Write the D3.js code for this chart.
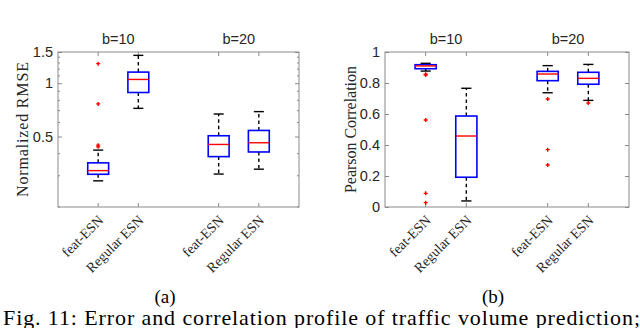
<!DOCTYPE html>
<html>
<head>
<meta charset="utf-8">
<script src="https://cdn.jsdelivr.net/npm/d3@7"></script>
<style>
  body { margin: 0; background: #fff; }
  svg { display: block; }
</style>
</head>
<body>
<svg id="chart" width="640" height="328"></svg>
<script>
// box categories and groups (same for both panels)
const categories = ["feat-ESN", "Regular ESN"];
const groupLabels = ["b=10", "b=20"];

// (a) normalized RMSE, per box: [lower whisker, q1, median, q3, upper whisker]
const rmseStats = [
  [0.281, 0.306, 0.321, 0.355, 0.419],
  [0.721, 0.886, 1.05, 1.155, 1.436],
  [0.307, 0.385, 0.451, 0.505, 0.670],
  [0.327, 0.409, 0.461, 0.541, 0.691]
];
const rmseOutliers = [[1.289, 0.764, 0.447, 0.437], [], [], []];
const rmseTicks = [0.5, 1, 1.5];
const rmseMinor = [0.2, 0.3, 0.4, 0.6, 0.7, 0.8, 0.9, 1.1, 1.2, 1.3, 1.4];

// (b) pearson correlation
const corrStats = [
  [0.877, 0.892, 0.910, 0.918, 0.927],
  [0.039, 0.192, 0.458, 0.587, 0.766],
  [0.737, 0.815, 0.858, 0.875, 0.912],
  [0.688, 0.792, 0.830, 0.869, 0.920]
];
const corrOutliers = [[0.852, 0.856, 0.561, 0.088, 0.028], [], [0.697, 0.370, 0.271], [0.671]];
const corrTicks = [0, 0.2, 0.4, 0.6, 0.8, 1];

const svg = d3.select("#chart");
const sans = "Liberation Sans, Arial, sans-serif";
const serif = "Liberation Serif, Times New Roman, serif";

function drawPanel(opts){
  const g = svg.append("g");
  const [x0, x1] = opts.xr;
  const [yb, yt] = opts.yr;

  // groups -> categories inside each group
  const gx = d3.scaleBand().domain(groupLabels).range([x0, x1]);
  const cx = d3.scalePoint().domain(categories).range([0, gx.bandwidth()]).padding(1);
  const step = cx.step();
  const boxes = [];
  groupLabels.forEach((grp, gi) => {
    categories.forEach((cat, ci) => {
      const i = gi * categories.length + ci;
      boxes.push({x: gx(grp) + cx(cat), cat: cat, s: opts.stats[i], out: opts.outliers[i]});
    });
  });
  const y = opts.y;

  // frame
  g.append("rect")
    .attr("x", x0).attr("y", yt)
    .attr("width", x1 - x0).attr("height", yb - yt)
    .attr("fill", "none").attr("stroke", "#8a8a8a").attr("stroke-width", 1);

  // y ticks (inward, mirrored on right)
  const yAxis = d3.axisLeft(y).tickValues(opts.ticks)
    .tickFormat(opts.fmt).tickSizeInner(-4).tickSizeOuter(0).tickPadding(5);
  const ya = g.append("g").attr("transform", `translate(${x0},0)`).call(yAxis);
  ya.select(".domain").remove();
  ya.selectAll("line").attr("stroke", "#8a8a8a");
  ya.selectAll("text").attr("font-family", sans).attr("font-size", 14.5).attr("fill", "#262626");

  const yr = g.append("g").attr("transform", `translate(${x1},0)`)
    .call(d3.axisRight(y).tickValues(opts.ticks).tickFormat("").tickSizeInner(-4).tickSizeOuter(0));
  yr.select(".domain").remove();
  yr.selectAll("line").attr("stroke", "#8a8a8a");

  if (opts.minor) {
    [x0, x1].forEach((xx, k) => {
      g.append("g").selectAll("line").data(opts.minor).join("line")
        .attr("x1", xx).attr("x2", xx + (k == 0 ? 2 : -2))
        .attr("y1", d => y(d)).attr("y2", d => y(d))
        .attr("stroke", "#8a8a8a");
    });
  }

  // x ticks top and bottom (inward)
  boxes.forEach(b => {
    g.append("line").attr("x1", b.x).attr("x2", b.x).attr("y1", yb).attr("y2", yb - 4).attr("stroke", "#8a8a8a");
    g.append("line").attr("x1", b.x).attr("x2", b.x).attr("y1", yt).attr("y2", yt + 4).attr("stroke", "#8a8a8a");
    g.append("text")
      .attr("transform", `translate(${b.x + 6},${yb + 14}) rotate(-45)`)
      .attr("text-anchor", "end")
      .attr("font-family", serif).attr("font-size", 14).attr("fill", "#262626")
      .text(b.cat);
  });

  // group labels
  groupLabels.forEach(grp => {
    g.append("text")
      .attr("x", gx(grp) + gx.bandwidth() / 2).attr("y", yt - 8)
      .attr("text-anchor", "middle")
      .attr("font-family", sans).attr("font-size", 14.5).attr("fill", "#262626")
      .text(grp);
  });

  // boxes
  const bw = step * 0.52;
  const cap = step * 0.25;
  boxes.forEach(b => {
    const [lo, q1, med, q3, hi] = b.s;
    const wg = g.append("g").attr("stroke", "#000").attr("stroke-width", 1.4);
    wg.append("line").attr("x1", b.x).attr("x2", b.x).attr("y1", y(q3)).attr("y2", y(hi)).attr("stroke-dasharray", "3.5,3");
    wg.append("line").attr("x1", b.x).attr("x2", b.x).attr("y1", y(q1)).attr("y2", y(lo)).attr("stroke-dasharray", "3.5,3");
    wg.append("line").attr("x1", b.x - cap / 2).attr("x2", b.x + cap / 2).attr("y1", y(hi)).attr("y2", y(hi));
    wg.append("line").attr("x1", b.x - cap / 2).attr("x2", b.x + cap / 2).attr("y1", y(lo)).attr("y2", y(lo));
    g.append("rect")
      .attr("x", b.x - bw / 2).attr("y", y(q3))
      .attr("width", bw).attr("height", y(q1) - y(q3))
      .attr("fill", "none").attr("stroke", "#0000ff").attr("stroke-width", 1.6);
    g.append("line")
      .attr("x1", b.x - bw / 2).attr("x2", b.x + bw / 2)
      .attr("y1", y(med)).attr("y2", y(med))
      .attr("stroke", "#ff0000").attr("stroke-width", 1.4);
    g.append("g").selectAll("path").data(b.out).join("path")
      .attr("d", d => `M${b.x - 2},${y(d)}h4M${b.x},${y(d) - 2}v4`)
      .attr("stroke", "#ff0000").attr("stroke-width", 1.4).attr("fill", "none");
  });

  // y label
  g.append("text")
    .attr("transform", `translate(${opts.labelX},${(yt + yb) / 2}) rotate(-90)`)
    .attr("text-anchor", "middle")
    .attr("font-family", serif).attr("font-size", 16).attr("fill", "#262626")
    .attr("textLength", opts.labelLen).attr("lengthAdjust", "spacing")
    .text(opts.label);

  // panel caption
  svg.append("text")
    .attr("x", opts.capX).attr("y", 303)
    .attr("text-anchor", "middle")
    .attr("font-family", serif).attr("font-size", 19).attr("fill", "#000")
    .text(opts.cap);
}

drawPanel({
  xr: [58, 299], yr: [207, 52],
  y: d3.scaleLog().domain([0.2, 1.5]).range([207, 52]),
  stats: rmseStats, outliers: rmseOutliers,
  ticks: rmseTicks, minor: rmseMinor, fmt: d3.format("~g"),
  label: "Normalized RMSE", labelX: 28, labelLen: 135,
  cap: "(a)", capX: 165
});

drawPanel({
  xr: [385, 629], yr: [207, 52],
  y: d3.scaleLinear().domain([0, 1]).range([207, 52]),
  stats: corrStats, outliers: corrOutliers,
  ticks: corrTicks, minor: null, fmt: d3.format("~g"),
  label: "Pearson Correlation", labelX: 356, labelLen: 127,
  cap: "(b)", capX: 493
});

// figure caption (cut off at bottom)
svg.append("text")
  .attr("x", 3).attr("y", 325)
  .attr("font-family", serif).attr("font-size", 22).attr("fill", "#000")
  .attr("textLength", 637).attr("lengthAdjust", "spacing")
  .text("Fig. 11: Error and correlation profile of traffic volume prediction;");
</script>
</body>
</html>
